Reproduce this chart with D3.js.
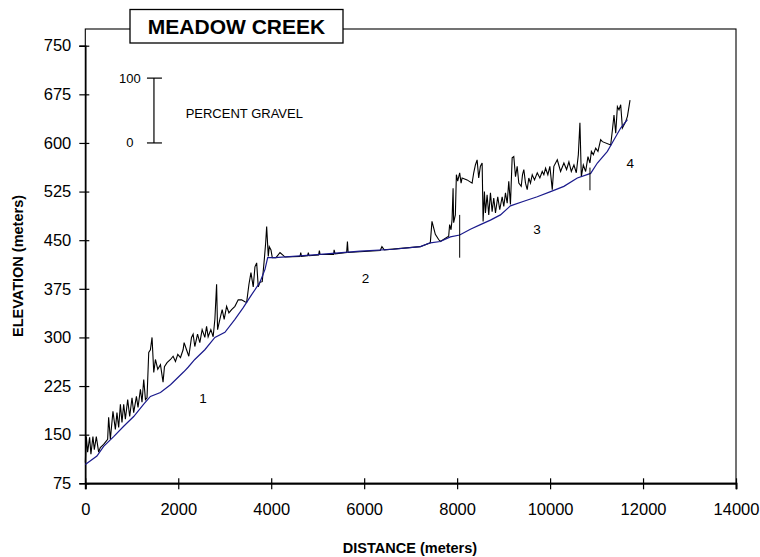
<!DOCTYPE html>
<html>
<head>
<meta charset="utf-8">
<script src="https://cdn.jsdelivr.net/npm/d3@7"></script>
<style>
  html, body { margin: 0; padding: 0; background: #fff; }
  svg { display: block; font-family: Arial, "Liberation Sans", Helvetica, sans-serif; }
</style>
</head>
<body>
<svg id="chart" width="760" height="557"></svg>
<script>
// ---------------- DATA ----------------
const title = "MEADOW CREEK";
const xTicks = [0, 2000, 4000, 6000, 8000, 10000, 12000, 14000];
const yTicks = [75, 150, 225, 300, 375, 450, 525, 600, 675, 750];

// Bed elevation profile (blue line): distance (m), elevation (m)
const profileDist = [0, 250, 395, 610, 826, 1041, 1257, 1401, 1617, 1833, 2119, 2212, 2356, 2572, 2788, 3004, 3219, 3398, 3579, 3758, 3866, 3924, 4081, 5051, 5914, 6632, 7208, 7423, 7639, 7855, 8055, 8285, 8501, 8716, 8932, 9147, 9435, 9724, 10011, 10297, 10586, 10873, 11017, 11233, 11375, 11519, 11664];
const profileElev = [104, 117, 132, 147, 163, 178, 197, 209, 215, 227, 247, 254, 266, 281, 300, 308, 328, 346, 366, 385, 405, 423, 423, 428, 433, 436, 440, 446, 448, 455, 458, 467, 474, 481, 489, 503, 510, 517, 525, 533, 546, 553, 569, 587, 605, 623, 636];

// Percent-gravel line (black), plotted as bed elevation + percent (1 m per %)
const gravelDist = [0, 22, 50, 93, 121, 164, 194, 237, 287, 323, 395, 481, 502, 539, 595, 647, 681, 718, 755, 789, 826, 862, 912, 955, 1005, 1041, 1100, 1134, 1186, 1220, 1257, 1294, 1328, 1365, 1401, 1436, 1473, 1509, 1559, 1617, 1673, 1703, 1759, 1833, 1889, 1940, 1990, 2048, 2104,
  2126, 2178, 2227, 2285, 2320, 2356, 2415, 2464, 2514, 2572, 2609, 2643, 2701, 2751, 2788, 2825, 2846, 2895, 2945, 2988, 3040, 3090, 3148, 3219, 3290, 3363, 3434, 3471, 3521, 3564, 3613, 3650, 3687, 3721, 3758, 3807, 3851, 3881, 3902, 3937, 3958, 3995, 4023, 4066,
  4103, 4189, 4297, 4620, 4635, 4652, 4782, 4799, 4814, 5019, 5036, 5051, 5343, 5353, 5375, 5623, 5640, 5655, 6345, 6382, 6431, 7208,
  7423, 7459, 7531, 7602, 7639, 7818, 7839, 7869, 7891, 7913, 7925, 7962, 7984, 8012, 8055, 8085, 8107, 8214, 8322, 8357, 8393, 8430, 8464, 8501, 8538, 8559, 8587, 8609, 8645, 8680, 8717, 8753, 8788, 8825, 8874, 8917, 8969, 9004, 9040, 9077, 9111, 9147, 9184, 9219, 9256, 9292, 9327,
  9379, 9407, 9435, 9471, 9508, 9542, 9579, 9616, 9665, 9724, 9780, 9831, 9866, 9903, 9952, 9995, 10047, 10081, 10155, 10226, 10297, 10355, 10405, 10457, 10513, 10564, 10608, 10642, 10672, 10715, 10765, 10815, 10858, 10888, 10931, 10981, 11030, 11088, 11125, 11304, 11341, 11375, 11412, 11448, 11483, 11519, 11556, 11627, 11664, 11720];
const gravelElev = [107, 147, 123, 146, 120, 147, 127, 147, 123, 130, 135, 143, 177, 143, 186, 158, 184, 161, 197, 169, 197, 174, 204, 178, 207, 184, 209, 192, 220, 200, 235, 204, 207, 277, 281, 300, 246, 266, 251, 258, 231, 255, 261, 266, 271, 263, 274, 269, 281,
  292, 281, 271, 300, 305, 286, 305, 292, 312, 300, 317, 301, 312, 301, 328, 382, 312, 328, 343, 328, 348, 338, 343, 348, 358, 358, 355, 354, 382, 400, 378, 409, 415, 378, 385, 386, 420, 446, 471, 425, 440, 435, 423, 423,
  423, 431, 424, 425, 431, 425, 426, 431, 426, 427, 434, 428, 428, 435, 429, 431, 448, 431, 434, 440, 435, 440,
  446, 479, 459, 451, 448, 456, 474, 466, 482, 530, 477, 489, 551, 541, 554, 538, 546, 543, 538, 554, 566, 574, 546, 564, 569, 479, 525, 492, 520, 489, 523, 494, 515, 492, 517, 497, 517, 502, 523, 507, 541, 505, 577, 579, 548, 564, 538,
  533, 551, 559, 538, 528, 546, 538, 551, 543, 554, 546, 556, 551, 561, 551, 564, 528, 564, 574, 556, 569, 559, 571, 556, 566, 554, 582, 631, 548, 566, 556, 579, 569, 587, 582, 592, 587, 605, 602, 597, 620, 643, 615, 656, 651, 659, 623, 633, 641, 666];

// Reach boundary markers: distance, low and high elevation
const breakDist = [8055, 10858];
const breakLow = [423, 527];
const breakHigh = [489, 562];

// Reach labels
const reachNames = ["1", "2", "3", "4"];
const reachDist = [2534, 6028, 9718, 11727];
const reachElev = [206, 392, 467, 569];

// Percent-gravel scale bar (drawn in elevation units: 100 % = 100 m)
const legendLabel = "PERCENT GRAVEL";
const legendDist = 1477;
const legendBase = 600;        // elevation of 0 %
const legendPct = [0, 100];
const legendLabelDist = 961;
const legendTextDist = 2159;
const legendTextElev = 646;

// ---------------- CHART ----------------
const svg = d3.select("#chart");
const left = 85.3, right = 736, bottom = 483.3, topTick = 45.7, frameTop = 29;

const x = d3.scaleLinear().domain([0, 14000]).range([left, right]);
const y = d3.scaleLinear().domain([75, 750]).range([bottom, topTick]);

// frame (plot area border)
svg.append("rect")
  .attr("x", left).attr("y", frameTop)
  .attr("width", right - left).attr("height", bottom - frameTop)
  .attr("fill", "none").attr("stroke", "#000").attr("stroke-width", 1.1);

// axes
const xAxis = svg.append("g").attr("transform", `translate(0,${bottom})`)
  .call(d3.axisBottom(x).tickValues(xTicks).tickFormat(d3.format("d")).tickSize(6).tickPadding(13.5));
xAxis.select(".domain").attr("stroke-width", 2);
xAxis.selectAll(".tick line").attr("y1", -5).attr("stroke-width", 1.2);
xAxis.selectAll(".tick text").attr("font-size", 16.5).attr("fill", "#000")
  .attr("font-family", "Arial, 'Liberation Sans', sans-serif");

const yAxis = svg.append("g").attr("transform", `translate(${left},0)`)
  .call(d3.axisLeft(y).tickValues(yTicks).tickSize(6).tickPadding(8));
yAxis.select(".domain").attr("stroke-width", 1.5);
yAxis.selectAll(".tick line").attr("x1", 4).attr("stroke-width", 1.2);
yAxis.selectAll(".tick text").attr("font-size", 16.5).attr("fill", "#000")
  .attr("font-family", "Arial, 'Liberation Sans', sans-serif");

// lines
const profile = profileDist.map((d, i) => [d, profileElev[i]]);
const gravel = gravelDist.map((d, i) => [d, gravelElev[i]]);
const line = d3.line().x(d => x(d[0])).y(d => y(d[1]));

svg.append("path").datum(gravel)
  .attr("d", line).attr("fill", "none")
  .attr("stroke", "#000").attr("stroke-width", 1.1).attr("stroke-linejoin", "miter");

svg.append("path").datum(profile)
  .attr("d", line).attr("fill", "none")
  .attr("stroke", "#1a1a8c").attr("stroke-width", 1.2);

// reach boundaries
svg.selectAll(".brk").data(breakDist).enter().append("line")
  .attr("x1", d => x(d)).attr("x2", d => x(d))
  .attr("y1", (d, i) => y(breakLow[i])).attr("y2", (d, i) => y(breakHigh[i]))
  .attr("stroke", "#000").attr("stroke-width", 1);

// reach labels
svg.selectAll(".reach").data(reachNames).enter().append("text")
  .attr("x", (d, i) => x(reachDist[i])).attr("y", (d, i) => y(reachElev[i]))
  .attr("dy", "0.35em").attr("text-anchor", "middle")
  .attr("font-size", 13.5).attr("fill", "#000").text(d => d);

// percent-gravel scale bar
const lx = x(legendDist);
svg.append("line").attr("x1", lx).attr("x2", lx)
  .attr("y1", y(legendBase)).attr("y2", y(legendBase + 100))
  .attr("stroke", "#000").attr("stroke-width", 1.2);
svg.selectAll(".cap").data(legendPct).enter().append("line")
  .attr("x1", lx - 7).attr("x2", lx + 8)
  .attr("y1", d => y(legendBase + d)).attr("y2", d => y(legendBase + d))
  .attr("stroke", "#000").attr("stroke-width", 1.2);
svg.selectAll(".capLabel").data(legendPct).enter().append("text")
  .attr("x", x(legendLabelDist)).attr("y", d => y(legendBase + d))
  .attr("dy", "0.35em").attr("text-anchor", "middle")
  .attr("font-size", 13).attr("fill", "#000").text(d => d);
svg.append("text").attr("x", x(legendTextDist)).attr("y", y(legendTextElev))
  .attr("dy", "0.35em").attr("font-size", 13).attr("fill", "#000").text(legendLabel);

// title box
svg.append("rect").attr("x", 130).attr("y", 9.5).attr("width", 213).attr("height", 33.5)
  .attr("fill", "#fff").attr("stroke", "#000").attr("stroke-width", 1.3);
svg.append("text").attr("x", 236.5).attr("y", 33.5).attr("text-anchor", "middle")
  .attr("font-size", 21).attr("font-weight", "bold").attr("fill", "#000").text(title);

// axis titles
svg.append("text").attr("x", 410).attr("y", 553).attr("text-anchor", "middle")
  .attr("font-size", 14.5).attr("font-weight", "bold").attr("fill", "#000").text("DISTANCE (meters)");
svg.append("text").attr("transform", "translate(23,266) rotate(-90)").attr("text-anchor", "middle")
  .attr("font-size", 14.5).attr("font-weight", "bold").attr("fill", "#000").text("ELEVATION (meters)");
</script>
</body>
</html>
